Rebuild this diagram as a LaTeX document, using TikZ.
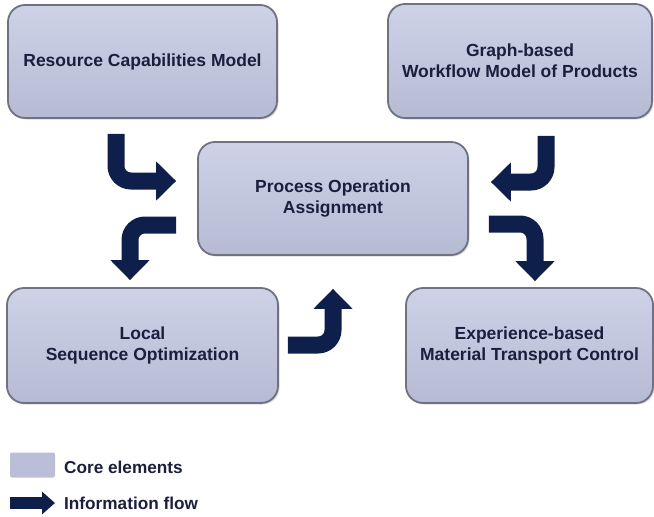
\documentclass[tikz,border=0pt]{standalone}
\usepackage{fontspec}
\setmainfont{Liberation Sans}
\usetikzlibrary{arrows.meta,shadows,calc}
\definecolor{boxtop}{HTML}{CED2E7}
\definecolor{boxbot}{HTML}{B6BBD4}
\definecolor{boxline}{HTML}{6E7282}
\definecolor{flow}{HTML}{0E1F4B}
\definecolor{ink}{HTML}{1B1E3C}
\definecolor{legendfill}{HTML}{BABED7}
\tikzset{
  element/.style={draw=boxline, line width=1.8pt, rounded corners=17pt,
    top color=boxtop, bottom color=boxbot, align=center,
    text=ink, font=\bfseries\fontsize{17.5}{21}\selectfont,
    inner sep=0pt,
    drop shadow={shadow xshift=1.5pt, shadow yshift=-1.5pt, fill=black!30, opacity=0.5}},
  flowarrow/.style={draw=flow, line width=17pt, rounded corners=15pt,
    -{Triangle[width=38pt,length=20pt]}},
  legendtext/.style={anchor=west, text=ink, font=\bfseries\fontsize{17.2}{20}\selectfont, inner sep=0pt}
}
\begin{document}
\begin{tikzpicture}[x=1pt, y=-1pt]
\useasboundingbox (0,0) rectangle (654,517);

% core elements
\node[element, minimum width=269pt, minimum height=113pt] (rcm) at (142.5,61.5)
  {Resource Capabilities Model};
\node[element, minimum width=264pt, minimum height=114pt] (gwm) at (520,61)
  {Graph-based\\Workflow Model of Products};
\node[element, minimum width=270pt, minimum height=113pt] (poa) at (333,198.5)
  {Process Operation\\Assignment};
\node[element, minimum width=271pt, minimum height=115pt] (lso) at (142.5,345.5)
  {Local\\Sequence Optimization};
\node[element, minimum width=247pt, minimum height=115pt] (emt) at (529.5,345.5)
  {Experience-based\\Material Transport Control};

% free ends and bends of the information flow arrows
\coordinate (a1s) at ($(rcm.south)+(-26.5,15)$);
\coordinate (a1e) at ($(poa.west)+(-21,-17.5)$);
\coordinate (a2s) at ($(gwm.south)+(26,17)$);
\coordinate (a2e) at ($(poa.east)+(22,-16.5)$);
\coordinate (a3s) at ($(poa.west)+(-21,26.5)$);
\coordinate (a3e) at ($(lso.north)+(-12.5,-7)$);
\coordinate (a4s) at ($(poa.east)+(20,25.5)$);
\coordinate (a4e) at ($(emt.north)+(5.5,-6)$);
\coordinate (a5s) at ($(lso.east)+(9,-0.5)$);
\coordinate (a5e) at ($(poa.south)+(0,33)$);

% information flow
\draw[flowarrow] (a1s) -- (a1s |- a1e) -- (a1e);
\draw[flowarrow] (a2s) -- (a2s |- a2e) -- (a2e);
\draw[flowarrow] (a3s) -- (a3e |- a3s) -- (a3e);
\draw[flowarrow] (a4s) -- (a4e |- a4s) -- (a4e);
\draw[flowarrow] (a5s) -- (a5e |- a5s) -- (a5e);

% legend
\node[fill=legendfill, rounded corners=2pt, minimum width=45pt, minimum height=25pt,
  inner sep=0pt] (keybox) at (32.5,465) {};
\node[legendtext] (keyboxtext) at (64,467) {Core elements};
\coordinate (keyarrowstart) at (10,503);
\node[legendtext] (keyarrowtext) at (64,503) {Information flow};
\draw[draw=flow, line width=12pt, -{Triangle[width=22pt,length=13pt]}]
  (keyarrowstart) -- ($(keyarrowtext.west)+(-9,0)$);
\end{tikzpicture}
\end{document}
